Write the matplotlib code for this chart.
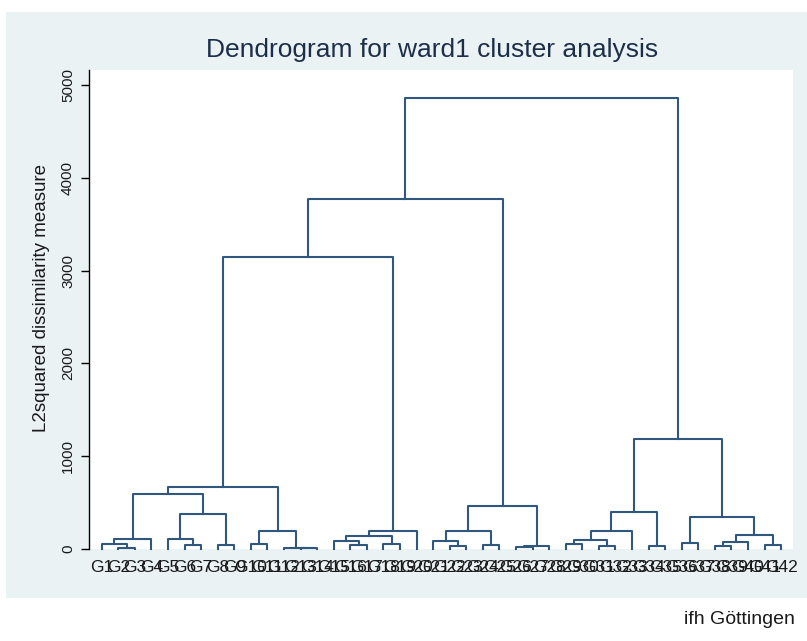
import matplotlib.pyplot as plt
from matplotlib.patches import Rectangle

plt.rcParams['font.family'] = ['Liberation Sans', 'DejaVu Sans']

# leaf labels, in the order they appear along the x axis
labels = ['G1', 'G2', 'G3', 'G4', 'G5', 'G6', 'G7', 'G8', 'G9', 'G10',
          'G11', 'G12', 'G13', 'G14', 'G15', 'G16', 'G17', 'G18', 'G19', 'G20',
          'G21', 'G22', 'G23', 'G24', 'G25', 'G26', 'G27', 'G28', 'G29', 'G30',
          'G31', 'G32', 'G33', 'G34', 'G35', 'G36', 'G37', 'G38', 'G39', 'G40',
          'G41', 'G42']

# merges: nodes 0-41 are the leaves above, each merge k creates node 42 + k
left_node = [1, 0, 43, 5, 4, 7, 46, 44,
             9, 12, 11, 50, 49,
             15, 14, 17, 56, 58, 54,
             21, 20, 23, 62, 25, 65, 64, 60,
             28, 30, 69, 71, 33, 72, 35, 37, 76, 40, 77, 75, 74, 68]
right_node = [2, 42, 3, 6, 45, 8, 47, 48,
              10, 13, 51, 52, 53,
              16, 55, 18, 57, 19, 59,
              22, 61, 24, 63, 26, 27, 66, 67,
              29, 31, 70, 32, 34, 73, 36, 38, 39, 41, 78, 79, 80, 81]
height = [15, 57, 105, 43, 105, 45, 375, 590,
          57, 10, 16, 190, 670,
          45, 81, 57, 135, 190, 3150,
          27, 81, 45, 190, 22, 28, 464, 3775,
          56, 27, 99, 189, 27, 397, 63, 27, 73, 45, 155, 343, 1182, 4863]

yticks = [0, 1000, 2000, 3000, 4000, 5000]

line_color = '#30587f'
bg_color = '#eaf2f3'
title_color = '#1c2e4a'
text_color = '#1a1a1a'

fig = plt.figure(figsize=(8.07, 6.41), dpi=100)
fig.patch.set_facecolor('white')
fig.patches.append(Rectangle((6 / 807, 1 - 598 / 641), 1 - 6 / 807, (598 - 12) / 641,
                             transform=fig.transFigure, facecolor=bg_color,
                             edgecolor='none', zorder=-5))

ax = fig.add_axes([89 / 807, 1 - 549 / 641, (793 - 89) / 807, (549 - 70) / 641])
ax.set_zorder(2)
ax.set_facecolor('white')

pos = {i: float(i + 1) for i in range(len(labels))}
hgt = {i: 0.0 for i in range(len(labels))}
for k, (a, b, h) in enumerate(zip(left_node, right_node, height)):
    ax.plot([pos[a], pos[a], pos[b], pos[b]], [hgt[a], h, h, hgt[b]],
            color=line_color, lw=1.5, clip_on=False)
    node = len(labels) + k
    pos[node] = (pos[a] + pos[b]) / 2
    hgt[node] = h

ax.set_xlim(0.23, 42.72)
ax.set_ylim(0, 5160)

ax.set_xticks([pos[i] for i in range(len(labels))])
ax.set_xticklabels(labels, fontsize=12.5, color=text_color)
ax.tick_params(axis='x', length=0, pad=8)

ax.set_yticks(yticks)
ax.set_yticklabels([str(v) for v in yticks], rotation=90, va='center',
                   fontsize=11, color=text_color)
ax.tick_params(axis='y', length=6, width=1, color='black', pad=4)

for s in ['top', 'right', 'bottom']:
    ax.spines[s].set_visible(False)
ax.spines['left'].set_color('black')
ax.spines['left'].set_linewidth(1)

fig.text(42 / 807, 1 - 298 / 641, 'L2squared dissimilarity measure', rotation=90,
         ha='center', va='center', fontsize=13.5, color=text_color)

fig.text(432 / 807, 1 - 50 / 641, 'Dendrogram for ward1 cluster analysis',
         ha='center', va='center', fontsize=19, color=title_color)

fig.text(795 / 807, 1 - 620 / 641, 'ifh Göttingen', ha='right', va='center',
         fontsize=14, color=text_color)

fig.savefig('out.png', dpi=100, facecolor=fig.get_facecolor())
